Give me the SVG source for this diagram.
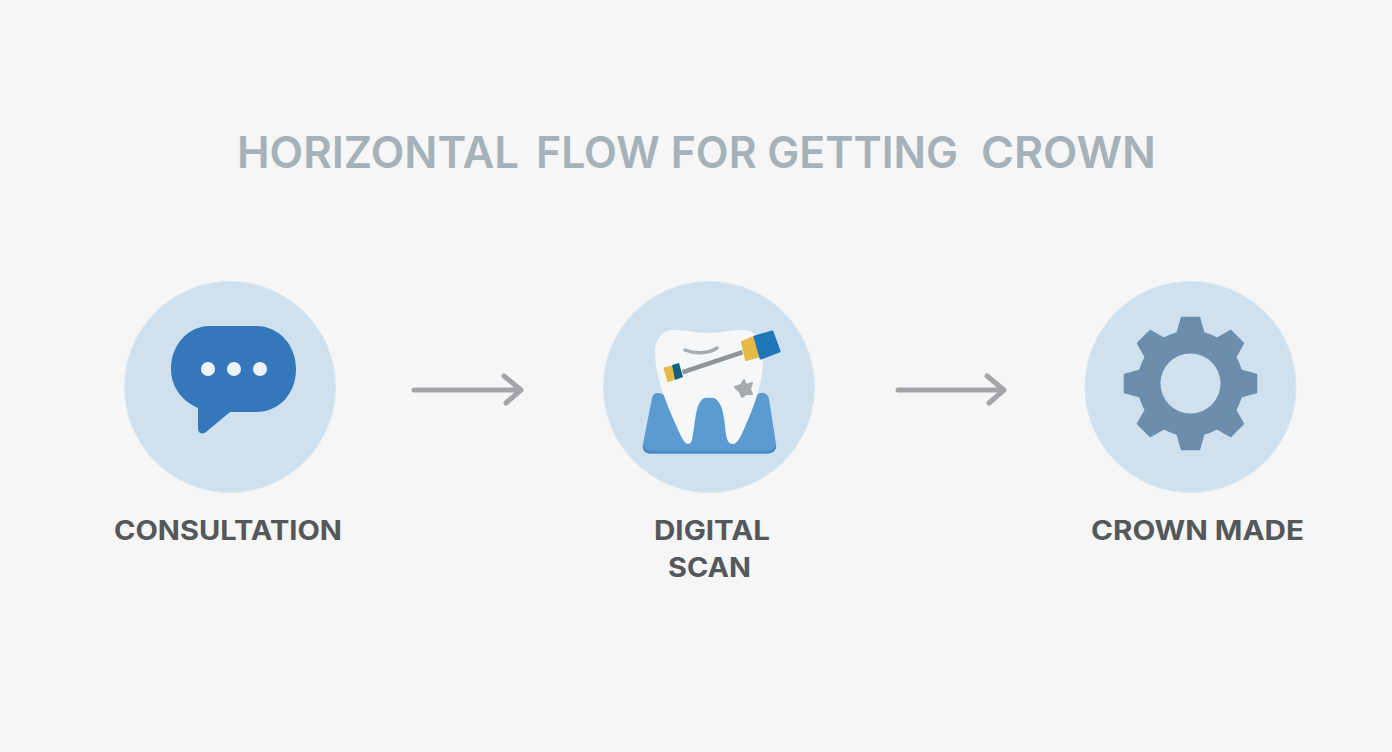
<svg xmlns="http://www.w3.org/2000/svg" width="1392" height="752" viewBox="0 0 1392 752">
<style>
.disc{fill:#cfe1ee;stroke:#d9e8f2;stroke-width:1}
.label{font-family:Inter,"Liberation Sans",sans-serif;font-size:27px;font-weight:700;fill:#55585b}
.title{font-family:Inter,"Liberation Sans",sans-serif;font-size:44px;font-weight:600;fill:#a5b2b9;white-space:pre}
.arrow{fill:none;stroke:#a3a5a8;stroke-width:5;stroke-linecap:round;stroke-linejoin:round}
</style>
<defs>
<polygon id="tooth" points="-9,-66 9,-66 14,-48 -14,-48" fill="#6c8eac" stroke="#6c8eac" stroke-width="1.500" stroke-linejoin="round"/>
</defs>
<rect width="1392" height="752" fill="#f6f6f6"/>
<text class="title" y="168"><tspan x="237" textLength="282" lengthAdjust="spacingAndGlyphs">HORIZONTAL</tspan><tspan>  </tspan><tspan x="536" textLength="422" lengthAdjust="spacingAndGlyphs">FLOW FOR GETTING</tspan><tspan>  </tspan><tspan x="981" textLength="175" lengthAdjust="spacingAndGlyphs">CROWN</tspan></text>
<g id="connectors">
<path class="arrow" d="M414 390H521M504 376L521 390L506 403"/>
<path class="arrow" d="M898 390H1004M987 376L1004 390L989 403"/>
</g>
<g id="consultation">
<circle class="disc" cx="230" cy="387" r="105.500"/>
<path d="M210 326H256C279 326 296 345 296 369C296 394 279 412 256 412H230L206 432C202 435 198 433 198 429V408C182 401 171 387 171 369C171 345 188 326 210 326Z" fill="#3478bb"/>
<g fill="#eef3f6"><circle cx="208" cy="369" r="7"/><circle cx="234" cy="369" r="7"/><circle cx="260" cy="369" r="7"/></g>
<text class="label" x="114" y="540" textLength="228" lengthAdjust="spacingAndGlyphs">CONSULTATION</text>
</g>
<g id="digital-scan">
<circle class="disc" cx="709" cy="387" r="105.500"/>
<path d="M643 444L652 398C653 394 655 393 658 393C661 393 664 394 666 398H755C757 394 759 393 762 393C766 393 768 395 769 399L776 444C777 450 773 453.500 768 453.500H651C645 453.500 642 450 643 444Z" fill="#5b9bd2"/>
<path d="M643 444C642 450 645 453.500 651 453.500H768C773 453.500 777 450 776 444C776 448 772 451 767 451H652C647 451 644 448 643 444Z" fill="#4a88c2"/>
<path d="M655 352C655 338 663 330 674 330C686 330 697 333 708 333C719 333 730 330 743 330C756 330 763 342 763 360C763 380 756 402 747 422C742 434 738 444 733 444C729 444 727 441 726 434C724 420 724 397 709 397C695 397 696 420 693 434C692 441 691 444 688 444C684 444 680 434 675 423C665 400 655 375 655 352Z" fill="#f5f7f8"/>
<path d="M685 350C695 354 708 354 717 348" fill="none" stroke="#a9adb1" stroke-width="3.500" stroke-linecap="round"/>
<path d="M744 380L746 385L752 383L750 389L752 394L746 394L742 397L740 392L735 387L741 385Z" fill="#a6aaae" stroke="#a6aaae" stroke-width="2" stroke-linejoin="round"/>
<g id="scan-tool">
<polygon points="682,370 742,350 743,354.500 683,374.500" fill="#8f9498"/>
<polygon points="664,368 672,366 675,379 668,382" fill="#e5bb45" stroke="#e5bb45" stroke-linejoin="round"/>
<polygon points="672,365 679,363 683,377 675,380" fill="#15607f"/>
<polygon points="742,342 754,337 760,356 746,360" fill="#e5bb45" stroke="#e5bb45" stroke-width="2" stroke-linejoin="round"/>
<polygon points="755,337 772,332 779,351 761,358" fill="#2077b8" stroke="#2077b8" stroke-width="3" stroke-linejoin="round"/>
</g>
<text class="label" x="654" y="540" textLength="116" lengthAdjust="spacingAndGlyphs">DIGITAL</text>
<text class="label" x="668" y="577" textLength="83" lengthAdjust="spacingAndGlyphs">SCAN</text>
</g>
<g id="crown-made">
<circle class="disc" cx="1190.500" cy="387" r="105.500"/>
<g transform="translate(1190.500 383.500)">
<circle r="53" fill="#6c8eac"/>
<use href="#tooth"/>
<use href="#tooth" transform="rotate(45)"/>
<use href="#tooth" transform="rotate(90)"/>
<use href="#tooth" transform="rotate(135)"/>
<use href="#tooth" transform="rotate(180)"/>
<use href="#tooth" transform="rotate(225)"/>
<use href="#tooth" transform="rotate(270)"/>
<use href="#tooth" transform="rotate(315)"/>
<circle r="30" fill="#cfe1ee"/>
</g>
<text class="label" x="1091" y="540" textLength="213" lengthAdjust="spacingAndGlyphs">CROWN MADE</text>
</g>
</svg>
